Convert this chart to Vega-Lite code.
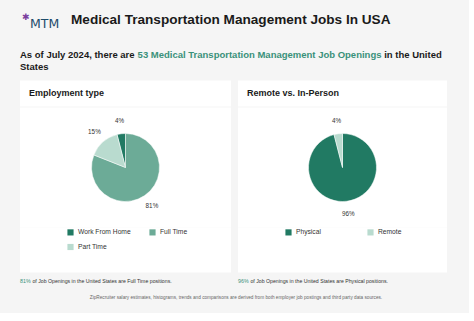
{
  "$schema": "https://vega.github.io/schema/vega-lite/v6.json",
  "background": "#f5f5f5",
  "padding": {"left": 20, "top": 12.5, "right": 17, "bottom": 0},
  "config": {
    "view": {"stroke": null},
    "font": "Liberation Sans",
    "concat": {"spacing": 0},
    "title": {"anchor": "start", "frame": "group", "orient": "top", "baseline": "middle", "color": "#1a1a1a", "fontWeight": "normal"}
  },
  "spacing": 0,
  "vconcat": [
    {
      "spacing": 8,
      "hconcat": [
        {
          "spacing": 0,
          "hconcat": [
            {"width": 0.1, "height": 36.85, "data": {"values": []}, "mark": "point",
             "title": {"text": "✱", "font": "DejaVu Sans", "fontSize": 9, "color": "#7b3f9e", "offset": -9, "dx": 2}},
            {"width": 33, "height": 36.85, "data": {"values": []}, "mark": "point",
             "title": {"text": "MTM", "font": "DejaVu Sans", "fontSize": 12.5, "color": "#1d4b6b", "offset": -18.25}}
          ]
        },
        {"width": 0.1, "height": 36.85, "data": {"values": []}, "mark": "point",
         "title": {"text": "Medical Transportation Management Jobs In USA", "fontSize": 13.6, "fontWeight": "bold", "offset": -13.6}}
      ]
    },
    {
      "spacing": 2.6,
      "hconcat": [
        {"width": 0.1, "height": 12, "data": {"values": []}, "mark": "point",
         "title": {"text": "As of July 2024, there are", "fontSize": 9.5, "fontWeight": "bold", "offset": -9.5}},
        {"width": 0.1, "height": 12, "data": {"values": []}, "mark": "point",
         "title": {"text": "53 Medical Transportation Management Job Openings", "fontSize": 9.5, "fontWeight": "bold", "color": "#3a917a", "offset": -9.5}},
        {"width": 0.1, "height": 12, "data": {"values": []}, "mark": "point",
         "title": {"text": "in the United", "fontSize": 9.5, "fontWeight": "bold", "offset": -9.5}}
      ]
    },
    {"width": 0.1, "height": 18.65, "data": {"values": []}, "mark": "point",
     "title": {"text": "States", "fontSize": 9.5, "fontWeight": "bold", "offset": -9.5}},
    {
      "spacing": 7,
      "resolve": {"scale": {"color": "independent", "theta": "independent"}},
      "hconcat": [
        {
          "spacing": 0,
          "resolve": {"scale": {"color": "independent", "theta": "independent"}},
          "vconcat": [
            {
              "spacing": 1,
              "resolve": {"scale": {"color": "independent", "theta": "independent"}},
              "vconcat": [
                {"width": 211, "height": 26, "view": {"fill": "white"}, "data": {"values": []}, "mark": "point",
                 "title": {"text": "Employment type", "fontSize": 9, "fontWeight": "bold", "offset": -17.5, "dx": 9}},
                {
                  "spacing": 0,
                  "resolve": {"scale": {"color": "independent", "theta": "independent"}},
                  "vconcat": [
                    {
                      "width": 211, "height": 120, "view": {"fill": "white"},
                      "data": {"values": [
                        {"type": "Work From Home", "share": 0.04},
                        {"type": "Full Time", "share": 0.81},
                        {"type": "Part Time", "share": 0.15}
                      ]},
                      "encoding": {
                        "theta": {"field": "share", "type": "quantitative", "stack": true},
                        "order": {"field": "type", "sort": "ascending"}
                      },
                      "layer": [
                        {"mark": {"type": "arc", "outerRadius": 34, "stroke": "white", "strokeWidth": 0.5},
                         "encoding": {"color": {"field": "type", "type": "nominal", "legend": null,
                           "scale": {"domain": ["Work From Home", "Full Time", "Part Time"], "range": ["#217a63", "#6cab97", "#b9dbcf"]}}}},
                        {"mark": {"type": "text", "radius": 47, "fontSize": 6.3, "color": "#333333"},
                         "encoding": {"text": {"field": "share", "type": "quantitative", "format": ".0%"}}}
                      ]
                    },
                    {
                      "width": 211, "height": 45, "view": {"fill": "white"},
                      "data": {"values": [
                        {"type": "Work From Home"}, {"type": "Full Time"}, {"type": "Part Time"}
                      ]},
                      "mark": {"type": "square", "opacity": 0},
                      "encoding": {"color": {"field": "type", "type": "nominal",
                        "scale": {"domain": ["Work From Home", "Full Time", "Part Time"], "range": ["#217a63", "#6cab97", "#b9dbcf"]},
                        "legend": {"title": null, "orient": "none", "legendX": 47, "legendY": 1, "direction": "horizontal", "columns": 2,
                          "columnPadding": 18, "rowPadding": 7, "symbolType": "square", "symbolSize": 38, "symbolOpacity": 1, "symbolStrokeWidth": 0,
                          "labelFontSize": 6.7, "labelColor": "#333333", "labelOffset": 4, "padding": 0}}}
                    }
                  ]
                }
              ]
            },
            {
              "spacing": 1.4,
              "hconcat": [
                {"width": 0.1, "height": 22, "data": {"values": []}, "mark": "point",
                 "title": {"text": "81%", "fontSize": 5.3, "color": "#3a917a", "offset": -11.3}},
                {"width": 0.1, "height": 22, "data": {"values": []}, "mark": "point",
                 "title": {"text": "of Job Openings in the United States are Full Time positions.", "fontSize": 5.2, "color": "#333333", "offset": -11.3}}
              ]
            }
          ]
        },
        {
          "spacing": 0,
          "resolve": {"scale": {"color": "independent", "theta": "independent"}},
          "vconcat": [
            {
              "spacing": 1,
              "resolve": {"scale": {"color": "independent", "theta": "independent"}},
              "vconcat": [
                {"width": 209, "height": 26, "view": {"fill": "white"}, "data": {"values": []}, "mark": "point",
                 "title": {"text": "Remote vs. In-Person", "fontSize": 9, "fontWeight": "bold", "offset": -17.5, "dx": 9}},
                {
                  "spacing": 0,
                  "resolve": {"scale": {"color": "independent", "theta": "independent"}},
                  "vconcat": [
                    {
                      "width": 209, "height": 120, "view": {"fill": "white"},
                      "data": {"values": [
                        {"type": "Physical", "share": 0.96},
                        {"type": "Remote", "share": 0.04}
                      ]},
                      "encoding": {
                        "theta": {"field": "share", "type": "quantitative", "stack": true},
                        "order": {"field": "type", "sort": "ascending"}
                      },
                      "layer": [
                        {"mark": {"type": "arc", "outerRadius": 34, "stroke": "white", "strokeWidth": 0.5},
                         "encoding": {"color": {"field": "type", "type": "nominal", "legend": null,
                           "scale": {"domain": ["Physical", "Remote"], "range": ["#217a63", "#b9dbcf"]}}}},
                        {"mark": {"type": "text", "radius": 47, "fontSize": 6.3, "color": "#333333"},
                         "encoding": {"text": {"field": "share", "type": "quantitative", "format": ".0%"}}}
                      ]
                    },
                    {
                      "width": 209, "height": 45, "view": {"fill": "white"},
                      "data": {"values": [{"type": "Physical"}, {"type": "Remote"}]},
                      "mark": {"type": "square", "opacity": 0},
                      "encoding": {"color": {"field": "type", "type": "nominal",
                        "scale": {"domain": ["Physical", "Remote"], "range": ["#217a63", "#b9dbcf"]},
                        "legend": {"title": null, "orient": "none", "legendX": 47, "legendY": 1, "direction": "horizontal", "columns": 2,
                          "columnPadding": 46, "rowPadding": 7, "symbolType": "square", "symbolSize": 38, "symbolOpacity": 1, "symbolStrokeWidth": 0,
                          "labelFontSize": 6.7, "labelColor": "#333333", "labelOffset": 4, "padding": 0}}}
                    }
                  ]
                }
              ]
            },
            {
              "spacing": 1.4,
              "hconcat": [
                {"width": 0.1, "height": 22, "data": {"values": []}, "mark": "point",
                 "title": {"text": "96%", "fontSize": 5.3, "color": "#3a917a", "offset": -11.3}},
                {"width": 0.1, "height": 22, "data": {"values": []}, "mark": "point",
                 "title": {"text": "of Job Openings in the United States are Physical positions.", "fontSize": 5.2, "color": "#333333", "offset": -11.3}}
              ]
            }
          ]
        }
      ]
    },
    {"width": 432, "height": 18, "data": {"values": []}, "mark": "point",
     "title": {"text": "ZipRecruiter salary estimates, histograms, trends and comparisons are derived from both employer job postings and third party data sources.", "fontSize": 4.7, "color": "#666666", "anchor": "middle", "offset": -5.3}}
  ]
}
